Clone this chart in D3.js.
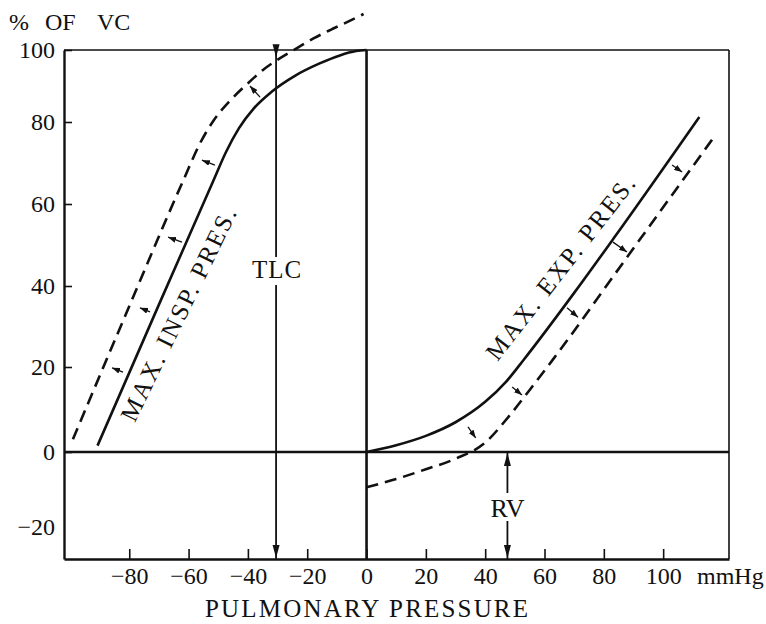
<!DOCTYPE html>
<html>
<head>
<meta charset="utf-8">
<script src="https://cdn.jsdelivr.net/npm/d3@7/dist/d3.min.js"></script>
<style>
  body { margin: 0; background: #fff; }
  text { font-family: "Liberation Serif", "DejaVu Serif", serif; fill: #111; }
</style>
</head>
<body>
<script>
// values (pressure in mmHg, volume in % of VC)
var xTicks = [-80, -60, -40, -20, 0, 20, 40, 60, 80, 100];
var yTicks = [-20, 0, 20, 40, 60, 80, 100];

var inspSolid = [[-90.7, 1.5], [-70, 35.4], [-51.5, 65.9], [-47.5, 72.5], [-43, 78.5], [-38, 83.8],
  [-32, 88.4], [-24, 92.9], [-16, 96.2], [-9, 98.5], [-3.5, 99.7], [0, 100]];
var inspDashed = [[-99, 3], [-80, 35], [-61.7, 65.9], [-56, 75], [-51.5, 80.5], [-45.8, 86.1], [-40.2, 90.6],
  [-34.7, 94.6], [-29, 97.8], [-23.3, 100.6], [-17.9, 103.2], [-12.1, 105.6], [-6.4, 107.8], [-1, 110]];
var expSolid = [[0, 0], [10, 1.6], [20, 3.8], [30, 7], [40, 11.8], [47, 16.5], [53, 21.8],
  [70, 38.3], [83.2, 51.5], [112.2, 81.4]];
var expDashed = [[0, -9.4], [10, -7.2], [20, -4.6], [30, -1.8], [40, 2.2], [48, 8.4], [55, 14.6],
  [63, 22], [88.3, 47.5], [117.6, 76.8]];

// small arrows: [tailX, tailY, headX, headY]
var inspArrows = [[-82.1, 18.8, -85.8, 19.8], [-73, 33.6, -76.4, 34.6], [-62.2, 50.7, -66.9, 51.9],
  [-51.1, 69.5, -55.5, 70.7], [-35.9, 86.9, -39.3, 90]];
var expArrows = [[34.2, 5.9, 36.8, 3.3], [49.1, 15.3, 52.4, 13.4], [67.6, 34.6, 71.3, 32.3],
  [83.1, 50.7, 87.8, 48.3], [103, 69.5, 106.4, 67.8]];

var tlcX = -30.5, tlcTip = 98;
var rvX = 47.5;

var width = 766, height = 624;

var x = d3.scaleLinear().domain([-102, 122.2]).range([64, 729]);
// the printed axis is not evenly spaced, so the scale follows the tick marks
var y = d3.scaleLinear()
  .domain([-28.5, -20, 0, 20, 40, 60, 80, 100])
  .range([559, 527, 452, 367, 286, 204, 122, 50]);

var svg = d3.select('body').append('svg')
  .attr('width', width)
  .attr('height', height);

var ink = '#111';
var serif = '"Liberation Serif", "DejaVu Serif", serif';

svg.append('defs').append('marker')
  .attr('id', 'small')
  .attr('markerUnits', 'userSpaceOnUse')
  .attr('viewBox', '0 0 8 6')
  .attr('refX', 8).attr('refY', 3)
  .attr('markerWidth', 8).attr('markerHeight', 6)
  .attr('orient', 'auto')
  .append('path')
  .attr('d', 'M0,0 L8,3 L0,6 z')
  .attr('fill', ink);

// frame top and right
svg.append('line')
  .attr('x1', x.range()[0]).attr('x2', x.range()[1])
  .attr('y1', y(100)).attr('y2', y(100))
  .attr('stroke', ink).attr('stroke-width', 1.6);
svg.append('line')
  .attr('x1', x.range()[1]).attr('x2', x.range()[1])
  .attr('y1', y(100)).attr('y2', y.range()[0])
  .attr('stroke', ink).attr('stroke-width', 1.6);

var xAxis = svg.append('g')
  .attr('transform', 'translate(0,' + y.range()[0] + ')')
  .call(d3.axisBottom(x)
    .tickValues(xTicks)
    .tickSizeInner(-10)
    .tickSizeOuter(0)
    .tickPadding(8)
    .tickFormat(function(d) { return d < 0 ? '\u2212' + Math.abs(d) : d; }));

var yAxis = svg.append('g')
  .attr('transform', 'translate(' + x.range()[0] + ',0)')
  .call(d3.axisLeft(y)
    .tickValues(yTicks)
    .tickSizeInner(-8)
    .tickSizeOuter(0)
    .tickPadding(9));

[xAxis, yAxis].forEach(function(a) {
  a.attr('font-family', serif);
  a.select('.domain').attr('stroke', ink).attr('stroke-width', 2.4);
  a.selectAll('.tick line').attr('stroke', ink).attr('stroke-width', 1.6);
  a.selectAll('.tick text')
    .attr('fill', ink)
    .style('font-size', '24px')
    .style('font-family', serif);
});
yAxis.selectAll('.tick').filter(function(d) { return d === -20; }).select('line').remove();

// zero line and zero-pressure line
svg.append('line')
  .attr('x1', x.range()[0]).attr('x2', x.range()[1])
  .attr('y1', y(0)).attr('y2', y(0))
  .attr('stroke', ink).attr('stroke-width', 2.6);
svg.append('line')
  .attr('x1', x(0)).attr('x2', x(0))
  .attr('y1', y(100)).attr('y2', y.range()[0])
  .attr('stroke', ink).attr('stroke-width', 2.6);

var line = d3.line()
  .x(function(d) { return x(d[0]); })
  .y(function(d) { return y(d[1]); })
  .curve(d3.curveMonotoneX);

[inspSolid, expSolid].forEach(function(s) {
  svg.append('path')
    .attr('d', line(s))
    .attr('fill', 'none')
    .attr('stroke', ink)
    .attr('stroke-width', 2.6);
});
[inspDashed, expDashed].forEach(function(s) {
  svg.append('path')
    .attr('d', line(s))
    .attr('fill', 'none')
    .attr('stroke', ink)
    .attr('stroke-width', 2.6)
    .attr('stroke-dasharray', '12,7');
});

svg.selectAll('line.small')
  .data(inspArrows.concat(expArrows))
  .enter().append('line')
  .attr('class', 'small')
  .attr('x1', function(d) { return x(d[0]); })
  .attr('y1', function(d) { return y(d[1]); })
  .attr('x2', function(d) { return x(d[2]); })
  .attr('y2', function(d) { return y(d[3]); })
  .attr('stroke', ink)
  .attr('stroke-width', 1.3)
  .attr('marker-end', 'url(#small)');

// vertical arrow helper: line from y1 to y2 with a filled head at y2
function vArrow(px, y1, y2, head) {
  svg.append('line')
    .attr('x1', px).attr('x2', px)
    .attr('y1', y1).attr('y2', y2)
    .attr('stroke', ink).attr('stroke-width', 1.8);
  if (head != null) {
    var dir = head > y1 ? -1 : 1;
    svg.append('path')
      .attr('d', 'M' + px + ',' + head + ' L' + (px - 3.5) + ',' + (head + dir * 13) +
        ' L' + (px + 3.5) + ',' + (head + dir * 13) + ' z')
      .attr('fill', ink);
  }
}

var tx = x(tlcX);
vArrow(tx, y(100), 257, y(tlcTip));
vArrow(tx, 285, y.range()[0], y.range()[0] - 1);
svg.append('text')
  .attr('x', tx + 1).attr('y', 278)
  .attr('text-anchor', 'middle')
  .style('font-size', '25px')
  .style('letter-spacing', '1px')
  .text('TLC');

var rx = x(rvX);
vArrow(rx, 493, y(0) + 1, y(0) + 1);
vArrow(rx, 521, y.range()[0], y.range()[0] - 1);
svg.append('text')
  .attr('x', rx).attr('y', 517)
  .attr('text-anchor', 'middle')
  .style('font-size', '26px')
  .text('RV');

// curve labels
svg.append('text')
  .attr('transform', 'translate(186,318) rotate(-64)')
  .attr('text-anchor', 'middle')
  .attr('textLength', 234)
  .attr('lengthAdjust', 'spacing')
  .style('font-size', '25px')
  .text('MAX. INSP. PRES.');

svg.append('text')
  .attr('transform', 'translate(567,273) rotate(-52)')
  .attr('text-anchor', 'middle')
  .attr('textLength', 226)
  .attr('lengthAdjust', 'spacing')
  .style('font-size', '25px')
  .text('MAX. EXP. PRES.');

// axis titles
var title = svg.append('g').style('font-size', '24px');
title.append('text').attr('x', 9).attr('y', 30).text('%');
title.append('text').attr('x', 45).attr('y', 30).text('OF');
title.append('text').attr('x', 97).attr('y', 30).text('VC');

svg.append('text')
  .attr('x', 697).attr('y', 584)
  .style('font-size', '24px')
  .text('mmHg');

svg.append('text')
  .attr('x', 205).attr('y', 617)
  .attr('textLength', 323)
  .attr('lengthAdjust', 'spacing')
  .style('font-size', '25px')
  .text('PULMONARY PRESSURE');
</script>
</body>
</html>
